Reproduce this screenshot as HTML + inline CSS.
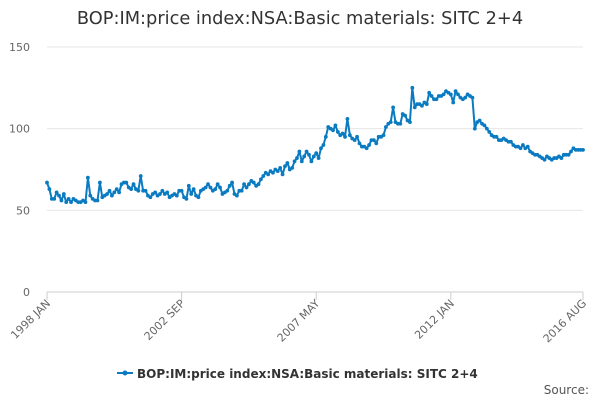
<!DOCTYPE html>
<html><head><meta charset="utf-8"><style>
body{margin:0;background:#fff;font-family:"Liberation Sans","DejaVu Sans",sans-serif}
</style></head><body>
<svg width="600" height="400" xmlns="http://www.w3.org/2000/svg" id="c">
<text x="300" y="24" text-anchor="middle" font-size="17.8" fill="#333" font-family="DejaVu Sans, sans-serif">BOP:IM:price index:NSA:Basic materials: SITC 2+4</text>
<g id="grid"></g><g id="xaxis"></g><g id="series"></g>
<g>
<line x1="117" y1="373" x2="133" y2="373" stroke="#0a7bc1" stroke-width="2"/>
<circle cx="125" cy="373" r="2.5" fill="#0a7bc1"/>
<text x="137" y="378" font-size="12" font-weight="bold" fill="#333" font-family="DejaVu Sans, sans-serif">BOP:IM:price index:NSA:Basic materials: SITC 2+4</text>
</g>
<text x="589" y="394" text-anchor="end" font-size="12" fill="#555" font-family="DejaVu Sans, sans-serif">Source:</text>
</svg>
<script>
const values=[67,63,57,57,61,59,56,60,55,57,55,57,
56,55,55,56,55,70,59,57,56,56,67,58,
59,60,62,59,61,63,61,66,67,67,64,63,
66,63,62,71,62,62,59,58,60,61,59,60,
62,60,61,58,59,60,59,62,62,58,57,65,
60,63,59,58,62,63,64,66,64,62,63,66,
64,60,61,62,65,67,60,59,62,62,66,64,
66,68,67,65,66,69,71,73,72,74,73,75,
74,76,72,77,79,75,76,80,82,86,80,83,
86,84,80,83,85,82,88,90,95,101,100,99,
102,98,96,97,95,106,96,94,93,95,91,89,
89,88,90,93,93,91,95,95,96,101,103,104,
113,104,103,103,109,108,105,104,125,113,115,115,
114,116,115,122,120,118,118,120,120,121,123,122,
121,116,123,121,119,118,119,121,120,119,100,104,
105,103,102,100,98,96,95,95,93,93,94,93,
92,92,90,89,89,88,90,88,89,86,85,84,
84,83,82,81,83,82,81,82,82,83,82,84,
84,84,86,88,87,87,87,87];
const yTicks=[0,50,100,150];
const xTickIdx=[0,56,112,168,223];
const xTickLabels=["1998 JAN","2002 SEP","2007 MAY","2012 JAN","2016 AUG"];
const NS="http://www.w3.org/2000/svg";
const x0=47,x1=583,y0=292,y1=47;
const xs=i=>x0+(x1-x0)*i/(values.length-1);
const ys=v=>y0-(y0-y1)*v/150;
function mk(t,a,p){const e=document.createElementNS(NS,t);for(const k in a)e.setAttribute(k,a[k]);p.appendChild(e);return e;}
const g=document.getElementById('grid');
yTicks.forEach(v=>{
 const l=mk('line',{x1:x0,x2:x1,y1:ys(v),y2:ys(v),stroke:v===0?'#ccc':'#e6e6e6','stroke-width':1},g);
 
 
 const t=mk('text',{x:30,y:ys(v)+4,'text-anchor':'end','font-size':11,fill:'#666','font-family':'DejaVu Sans, sans-serif'},g);
 t.textContent=v;
 
 
});
const xa=document.getElementById('xaxis');
xTickIdx.forEach((idx,k)=>{
 const x=xs(idx);
 const l=mk('line',{x1:x,x2:x,y1:y0,y2:y0+8,stroke:'#ccc'},xa);
 
 
 const t=mk('text',{x:x+4,y:y0+12,'text-anchor':'end','font-size':11,fill:'#666','font-family':'DejaVu Sans, sans-serif',transform:`rotate(-45 ${x+4} ${y0+12})`},xa);
 t.textContent=xTickLabels[k];
 
 
});
const s=document.getElementById('series');
const p=mk('path',{d:values.map((v,i)=>(i?'L':'M')+xs(i).toFixed(1)+' '+ys(v).toFixed(1)).join(''),fill:'none',stroke:'#0a7bc1','stroke-width':2,'stroke-linejoin':'round'},s);


values.forEach((v,i)=>{
 const c=mk('circle',{cx:xs(i),cy:ys(v),r:1.9,fill:'#0a7bc1'},s);
 
 
});
</script>
</body></html>
